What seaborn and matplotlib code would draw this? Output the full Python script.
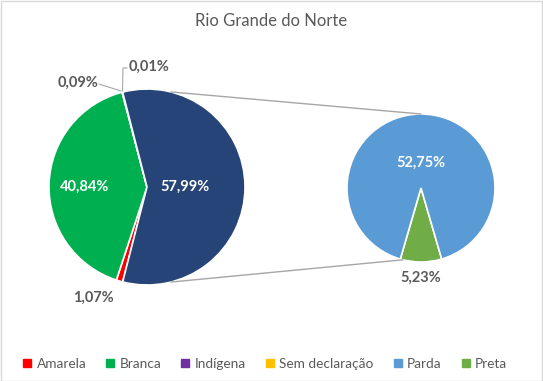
import matplotlib
matplotlib.use("Agg")
import matplotlib.pyplot as plt
from matplotlib.lines import Line2D
from matplotlib.patches import Rectangle
import numpy as np
import seaborn as sns

sns.set_theme(style="white")
plt.rcParams['font.family'] = ['Lato', 'DejaVu Sans']

title = "Rio Grande do Norte"
main_labels = ["Amarela", "Branca", "Indígena", "Sem declaração"]
main_values = [1.07, 40.84, 0.09, 0.01]
other_value = 57.99  # Parda + Preta, as shown on the chart
sub_labels = ["Parda", "Preta"]
sub_values = [52.75, 5.23]
colors = {"Amarela": "#FF0000", "Branca": "#00B050", "Indígena": "#7030A0",
          "Sem declaração": "#FFC000", "Parda": "#5B9BD5", "Preta": "#70AD47"}
other_color = "#264478"

W, H = 543, 381
fig = plt.figure(figsize=(W / 100, H / 100), dpi=100)
ax = fig.add_axes([0, 0, 1, 1])

def fmt(v):
    return f"{v:.2f}%".replace(".", ",")

# main pie
vals = main_values + [other_value]
total = sum(vals)
other_frac = other_value / total
start = 360 * other_frac / 2 + 360 * (1 - other_frac)
c1 = (147, H - 187)
r1 = 98
ax.pie(vals, colors=[colors[l] for l in main_labels] + [other_color],
       startangle=start, counterclock=False, center=c1, radius=r1,
       wedgeprops=dict(edgecolor="white", linewidth=1.2), frame=True)

# secondary pie
c2 = (421, H - 188)
r2 = 74
preta_frac = sub_values[1] / sum(sub_values)
ax.pie(sub_values[::-1], colors=[colors["Preta"], colors["Parda"]],
       startangle=-90 - 360 * preta_frac / 2, counterclock=True, center=c2, radius=r2,
       wedgeprops=dict(edgecolor="white", linewidth=1.2), frame=True)
ax.set_xlim(0, W)
ax.set_ylim(0, H)
ax.axis("off")

# connector lines
def pt(c, r, ang):
    a = np.deg2rad(ang)
    return c[0] + r * np.cos(a), c[1] + r * np.sin(a)

p1 = pt(c1, r1, 76)
p2 = pt(c2, r2, 90)
p3 = pt(c1, r1, -76)
p4 = pt(c2, r2, -104)
ax.plot([p1[0], p2[0]], [p1[1], p2[1]], color="#A6A6A6", lw=1)
ax.plot([p3[0], p4[0]], [p3[1], p4[1]], color="#A6A6A6", lw=1)

# labels
gray = "#595959"
fs = 10.5
ax.text(85, H - 187, fmt(main_values[1]), color="white", fontsize=fs, fontweight="bold", ha="center", va="center")
ax.text(185, H - 187, fmt(other_value), color="white", fontsize=fs, fontweight="bold", ha="center", va="center")
ax.text(93, H - 298, fmt(main_values[0]), color=gray, fontsize=fs, fontweight="bold", ha="center", va="center")
ax.text(78, H - 83, fmt(main_values[2]), color=gray, fontsize=fs, fontweight="bold", ha="center", va="center")
ax.text(149, H - 67, fmt(main_values[3]), color=gray, fontsize=fs, fontweight="bold", ha="center", va="center")
ax.plot([99, 121], [H - 84, H - 91], color="#A6A6A6", lw=0.8)
ax.plot([122.5, 123, 127], [H - 91, H - 68, H - 68], color="#A6A6A6", lw=0.8)
ax.text(421, H - 163, fmt(sub_values[0]), color="white", fontsize=fs, fontweight="bold", ha="center", va="center")
ax.text(421, H - 278, fmt(sub_values[1]), color=gray, fontsize=fs, fontweight="bold", ha="center", va="center")

# title
ax.text(W / 2, H - 21, title, color=gray, fontsize=12, ha="center", va="center")

# border
fig.patches.append(Rectangle((0.5 / W, 0.5 / H), 1 - 1.5 / W, 1 - 1.5 / H, transform=fig.transFigure,
                             fill=False, edgecolor="#D9D9D9", lw=1))

# legend
names = main_labels + sub_labels
handles = [Line2D([0], [0], marker="s", linestyle="", markersize=6,
                  markerfacecolor=colors[n], markeredgecolor=colors[n]) for n in names]
fig.legend(handles, names, loc="center", bbox_to_anchor=(0.487, 1 - 364 / H), ncol=6,
           frameon=False, fontsize=9.8, labelcolor=gray, handlelength=0.8,
           handletextpad=0.3, columnspacing=1.35)

fig.savefig("out.png", dpi=100)
